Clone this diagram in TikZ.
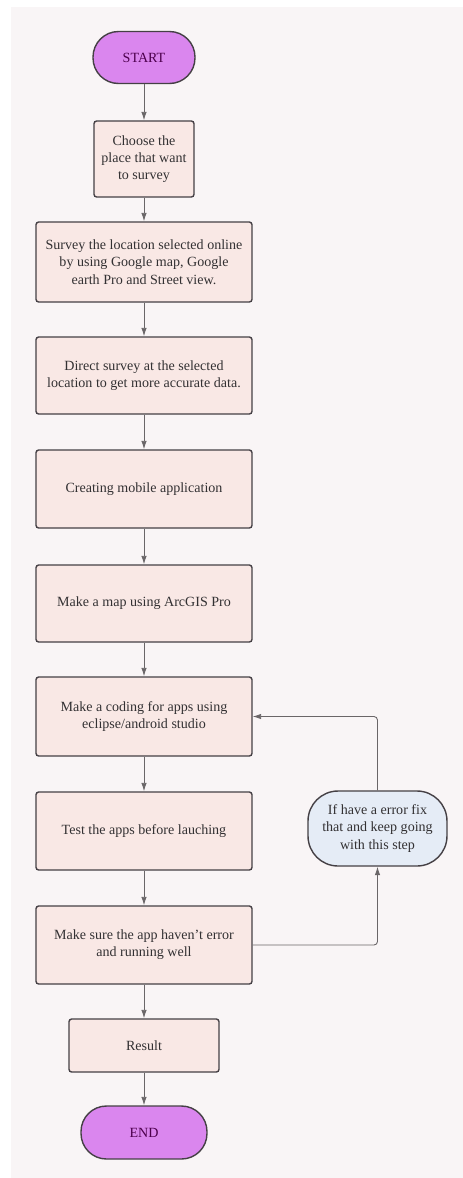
\documentclass[tikz,border=0pt]{standalone}
\usepackage{fontspec}
\setmainfont{Liberation Serif}
\usetikzlibrary{arrows.meta}
\definecolor{fondo}{HTML}{F9F5F6}
\definecolor{caja}{HTML}{F9E8E5}
\definecolor{borde}{HTML}{454045}
\definecolor{lila}{HTML}{DA86EE}
\definecolor{celeste}{HTML}{E5ECF6}
\definecolor{texto}{HTML}{333133}
\definecolor{linea}{HTML}{6A6668}
\begin{document}
\begin{tikzpicture}[x=0.02cm, y=-0.02cm,
  every node/.style={font=\fontsize{8}{9.8}\selectfont, text=texto, align=center},
  paso/.style={draw=borde, line width=0.8pt, fill=caja, rounded corners=1.5pt,
    minimum width=4.32cm, minimum height=1.56cm, inner sep=2pt},
  extremo/.style={draw=borde, line width=0.8pt, fill=lila, rounded corners=0.51cm,
    minimum height=1.04cm, text=violet!60!black},
  flecha/.style={draw=linea, line width=0.5pt, -{Latex[length=1.7mm,width=1.1mm]}}]
% Fondo
\useasboundingbox (0,0) rectangle (463,1178);
\fill[fondo] (11,7) rectangle (463,1178);

% Columna principal
\node[extremo, minimum width=2.04cm] (start) at (144,57.5) {START};
\node[paso, minimum width=2cm, minimum height=1.52cm] (choose) at (144,159)
  {Choose the\\place that want\\to survey};
\node[paso, minimum height=1.6cm] (survey) at (144,262)
  {Survey the location selected online\\by using Google map, Google\\earth Pro and Street view.};
\node[paso, minimum height=1.54cm] (direct) at (144,375.5)
  {Direct survey at the selected\\location to get more accurate data.};
\node[paso] (creating) at (144,489) {Creating mobile application};
\node[paso, minimum height=1.54cm] (map) at (144,603.5) {Make a map using ArcGIS Pro};
\node[paso, minimum height=1.58cm] (coding) at (144,716.5)
  {Make a coding for apps using\\eclipse/android studio};
\node[paso] (test) at (144,831) {Test the apps before lauching};
\node[paso] (check) at (144,945) {Make sure the app haven't error\\and running well};
\node[paso, minimum width=3cm, minimum height=1.06cm] (result) at (144,1045.5) {Result};
\node[extremo, minimum width=2.52cm, minimum height=1.06cm] (end) at (144,1132.5) {END};

% Caja de error
\node[draw=borde, line width=0.8pt, fill=celeste, rounded corners=0.6cm,
  minimum width=2.78cm, minimum height=1.5cm] (fix) at (377.5,828.5)
  {If have a error fix\\that and keep going\\with this step};

% Flechas
\draw[flecha] (start) -- (choose);
\draw[flecha] (choose) -- (survey);
\draw[flecha] (survey) -- (direct);
\draw[flecha] (direct) -- (creating);
\draw[flecha] (creating) -- (map);
\draw[flecha] (map) -- (coding);
\draw[flecha] (coding) -- (test);
\draw[flecha] (test) -- (check);
\draw[flecha] (check) -- (result);
\draw[flecha] (result) -- (end);
\draw[flecha, rounded corners=2pt] (check.east) -| (fix.south);
\draw[flecha, rounded corners=2pt] (fix.north) |- (coding.east);

\end{tikzpicture}
\end{document}
